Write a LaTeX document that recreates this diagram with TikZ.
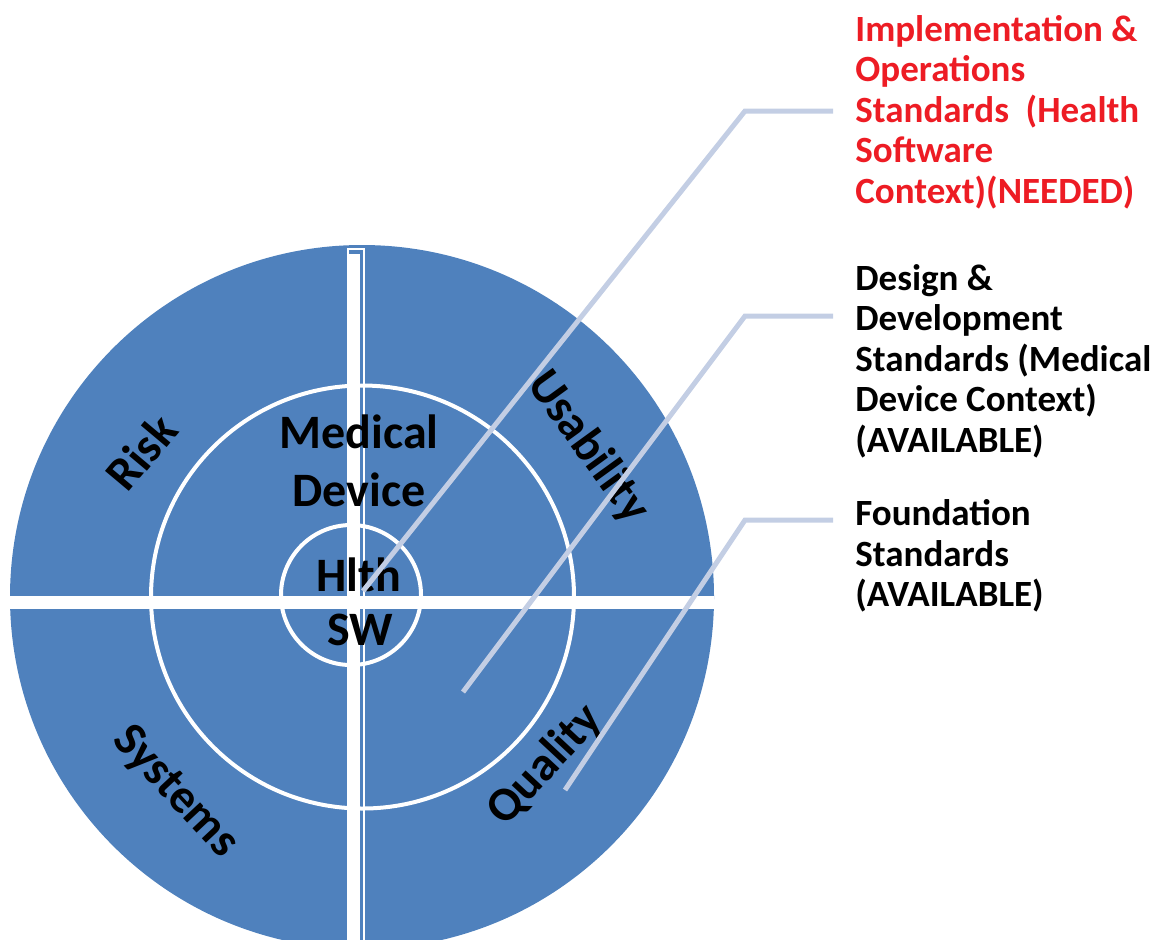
\documentclass[tikz,border=0pt]{standalone}
\usepackage{fontspec}
\setmainfont{Carlito}
\definecolor{ringblue}{RGB}{79,129,189}
\definecolor{leadgray}{RGB}{195,206,228}
\definecolor{needred}{RGB}{237,28,36}
\tikzset{
  ringlabel/.style={font=\fontsize{24}{29}\selectfont\bfseries, inner sep=0pt, align=center},
  sidetext/.style={font=\fontsize{18.5}{20.25}\selectfont\bfseries, align=left, anchor=west, inner sep=0pt},
  leader/.style={draw=leadgray, line width=2.5pt}
}
\begin{document}
\begin{tikzpicture}[x=0.5pt,y=-0.5pt]
\def\cx{362}
\def\cy{597}
\def\rbig{352}
\def\rmid{211.5}
\def\rin{70}

\clip (0,0) rectangle (1159,939);

\fill[ringblue] (\cx, \cy) circle (\rbig);
\draw[white, line width=2pt] (362.5, 597) circle (\rmid);
\draw[white, line width=2pt] (351, 595) circle (\rin);

\fill[white] (10, 596) rectangle (714, 609);
\draw[white, line width=1pt] (348, 249) rectangle (364, 950);
\fill[white] (348, 254) rectangle (360, 950);

\node[ringlabel] (meddev) at (359, 461) {Medical\\Device};
\node[ringlabel] (hlth) at (358.5, 575) {Hlth};
\node[ringlabel] (sw) at (360, 630) {SW};

\node[ringlabel, rotate=50] (risk) at (141, 452) {Risk};
\node[ringlabel, rotate=-54] (usab) at (588, 447) {Usability};
\node[ringlabel, rotate=-47] (sys) at (175, 792) {Systems};
\node[ringlabel, rotate=47] (qual) at (545, 765) {Quality};

\node[sidetext, text=needred] (impl) at (855, 112) {Implementation \&\\Operations\\Standards\ \ (Health\\Software\\Context)(NEEDED)};
\node[sidetext] (design) at (855, 361) {Design \&\\Development\\Standards (Medical\\Device Context)\\(AVAILABLE)};
\node[sidetext] (found) at (855, 556) {Foundation\\Standards\\(AVAILABLE)};

\coordinate (impl-foot) at (363, 591);
\coordinate (impl-knee) at (745, 111);
\coordinate (impl-tip) at (833, 111);
\coordinate (design-foot) at (463, 692);
\coordinate (design-knee) at (745, 316);
\coordinate (design-tip) at (833, 316);
\coordinate (found-foot) at (565, 790);
\coordinate (found-knee) at (745, 520);
\coordinate (found-tip) at (833, 520);

\draw[leader] (impl-foot) -- (impl-knee) -- (impl-tip);
\draw[leader] (design-foot) -- (design-knee) -- (design-tip);
\draw[leader] (found-foot) -- (found-knee) -- (found-tip);

\end{tikzpicture}
\end{document}
